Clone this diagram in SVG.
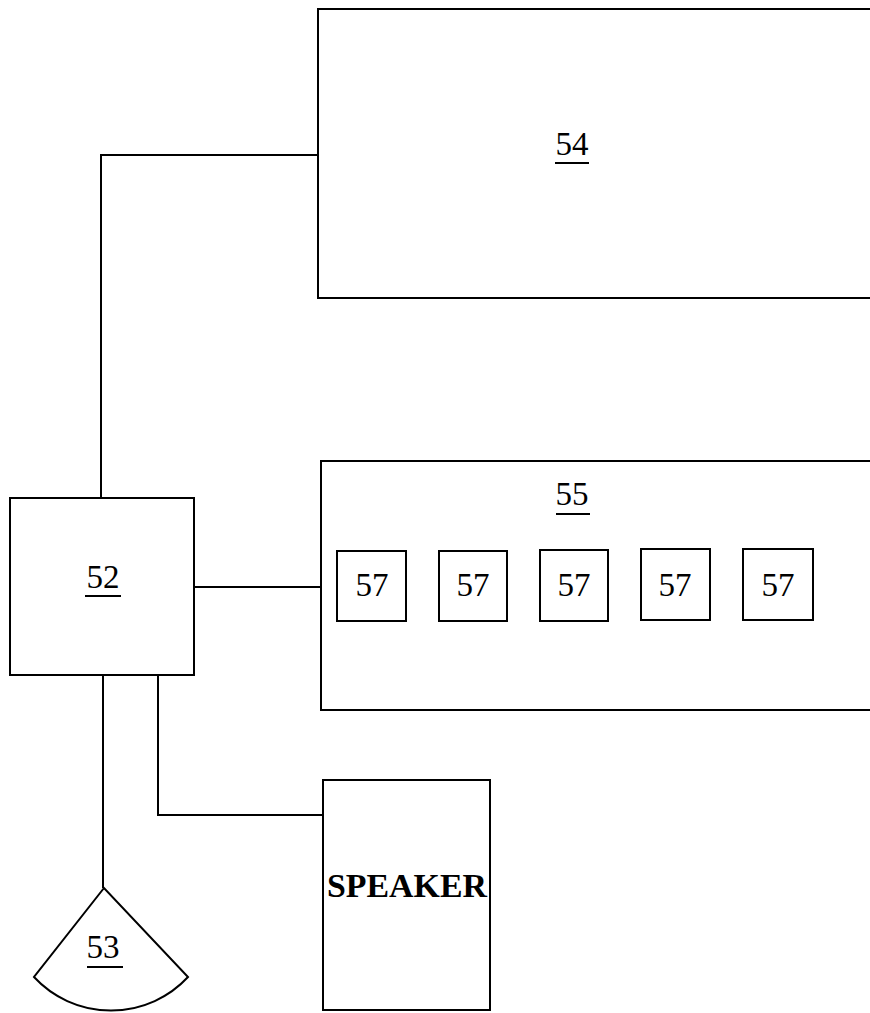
<svg xmlns="http://www.w3.org/2000/svg" width="870" height="1013" viewBox="0 0 870 1013">
<style>
.s{fill:none;stroke:#000;stroke-width:2}
.t{font-family:"Liberation Serif","Times New Roman",serif;font-size:33px;fill:#000;text-anchor:middle}
.u{stroke:#000;stroke-width:2}
</style>
<rect width="870" height="1013" fill="#fff"/>
<g id="connectors">
<path class="s" d="M101,498 V155 H318"/>
<path class="s" d="M194,587 H321"/>
<path class="s" d="M158,675 V815 H323"/>
<path class="s" d="M103,675 V888"/>
</g>
<g id="n54">
<path class="s" d="M870,9 H318 V298 H870"/>
<text class="t" x="572" y="155">54</text>
<line class="u" x1="555" y1="163" x2="589" y2="163"/>
</g>
<g id="n55">
<path class="s" d="M870,461 H321 V710 H870"/>
<text class="t" x="572" y="505">55</text>
<line class="u" x1="556" y1="514" x2="590" y2="514"/>
</g>
<g id="n57a"><rect class="s" x="337" y="551" width="69" height="70"/><text class="t" x="372" y="596">57</text></g>
<g id="n57b"><rect class="s" x="439" y="551" width="68" height="70"/><text class="t" x="473" y="596">57</text></g>
<g id="n57c"><rect class="s" x="540" y="550" width="68" height="71"/><text class="t" x="574" y="596">57</text></g>
<g id="n57d"><rect class="s" x="641" y="549" width="69" height="71"/><text class="t" x="675" y="596">57</text></g>
<g id="n57e"><rect class="s" x="743" y="549" width="70" height="71"/><text class="t" x="778" y="596">57</text></g>
<g id="n52">
<rect class="s" x="10" y="498" width="184" height="177"/>
<text class="t" x="103" y="588">52</text>
<line class="u" x1="85" y1="596" x2="121" y2="596"/>
</g>
<g id="n53">
<path class="s" d="M104,888 L34,977 A105,105 0 0 0 188,977 Z"/>
<text class="t" x="103" y="958">53</text>
<line class="u" x1="87" y1="967" x2="123" y2="967"/>
</g>
<g id="speaker">
<rect class="s" x="323" y="780" width="167" height="230"/>
<text class="t" x="407" y="897" font-weight="bold" font-size="30" textLength="160" lengthAdjust="spacingAndGlyphs">SPEAKER</text>
</g>
</svg>
